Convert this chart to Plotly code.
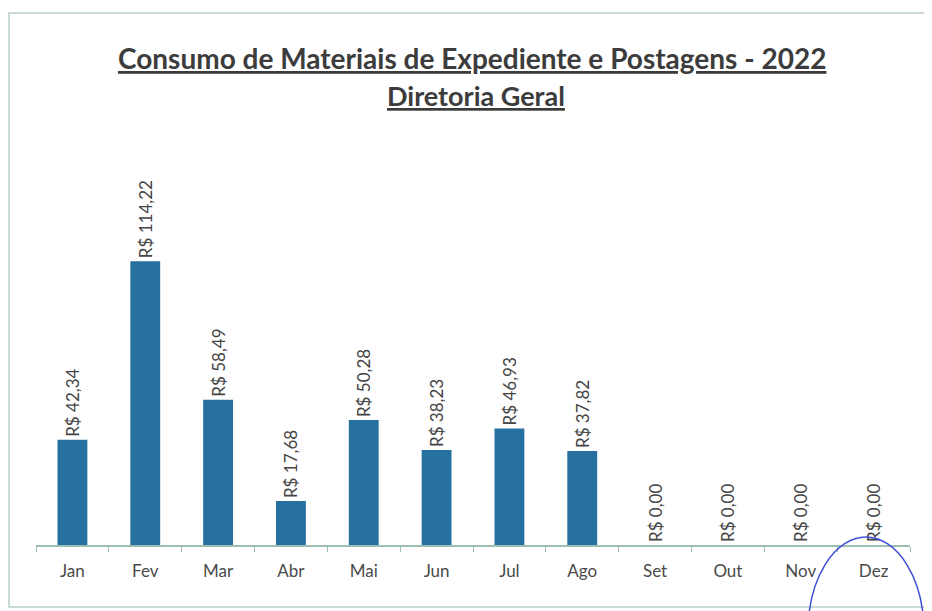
import plotly.graph_objects as go

months = ["Jan", "Fev", "Mar", "Abr", "Mai", "Jun", "Jul", "Ago", "Set", "Out", "Nov", "Dez"]
values = [42.34, 114.22, 58.49, 17.68, 50.28, 38.23, 46.93, 37.82, 0.00, 0.00, 0.00, 0.00]

title_text = "<b><u>Consumo de Materiais de Expediente e Postagens - 2022</u></b>"
subtitle_text = "<b><u>Diretoria Geral</u></b>"

# page body has an 8px margin, so the figure is drawn offset by (8, 8)
OFF = 8
W, H = 932 - OFF, 611 - OFF
L, R, T = 36 - OFF, 932 - 910, 130 - OFF
B = H - (545 - OFF)
PW = W - L - R
PH = H - T - B


def px_x(px):
    return (px - OFF - L) / PW


def px_y(py):
    return (H - B - (py - OFF)) / PH


fig = go.Figure(
    go.Bar(
        x=months,
        y=values,
        marker=dict(color="#2671A0", line=dict(width=0)),
        texttemplate="R$ %{y:.2f}\u00a0\u00a0",
        textposition="outside",
        textangle=-90,
        constraintext="none",
        textfont=dict(family="Lato, Open Sans, sans-serif", size=17, color="#454545"),
        cliponaxis=False,
        hoverinfo="x+y",
    )
)

fig.update_layout(
    width=W,
    height=H,
    margin=dict(l=L, r=R, t=T, b=B),
    paper_bgcolor="white",
    plot_bgcolor="white",
    separators=",.",
    bargap=0.59,
    showlegend=False,
    xaxis=dict(
        type="category",
        showgrid=False,
        showline=True,
        linecolor="#9cbfb2",
        linewidth=1.5,
        ticks="outside",
        tickson="boundaries",
        ticklen=5,
        tickcolor="#9cbfb2",
        ticklabelstandoff=10,
        tickfont=dict(family="Lato, Open Sans, sans-serif", size=17, color="#4a4a4a"),
    ),
    yaxis=dict(
        range=[0, 167],
        showgrid=False,
        showline=False,
        showticklabels=False,
        zeroline=False,
        ticks="",
    ),
    annotations=[
        dict(
            text=title_text,
            x=px_x(472), y=px_y(58), xref="paper", yref="paper",
            xanchor="center", yanchor="middle", showarrow=False,
            font=dict(family="Lato, Open Sans, sans-serif", size=28, color="#3c3c3c"),
        ),
        dict(
            text=subtitle_text,
            x=px_x(476), y=px_y(96), xref="paper", yref="paper",
            xanchor="center", yanchor="middle", showarrow=False,
            font=dict(family="Lato, Open Sans, sans-serif", size=27, color="#3c3c3c"),
        ),
    ],
    shapes=[
        dict(
            type="rect", xref="paper", yref="paper",
            x0=px_x(9), x1=px_x(926), y0=px_y(607), y1=px_y(13),
            line=dict(color="#b9cfc7", width=1.5), layer="below",
        ),
        dict(
            type="circle", xref="paper", yref="paper",
            x0=px_x(808), x1=px_x(924), y0=px_y(727), y1=px_y(537),
            line=dict(color="#3f4fd6", width=1.5), layer="above",
        ),
    ],
)

fig.write_html("out.html")
